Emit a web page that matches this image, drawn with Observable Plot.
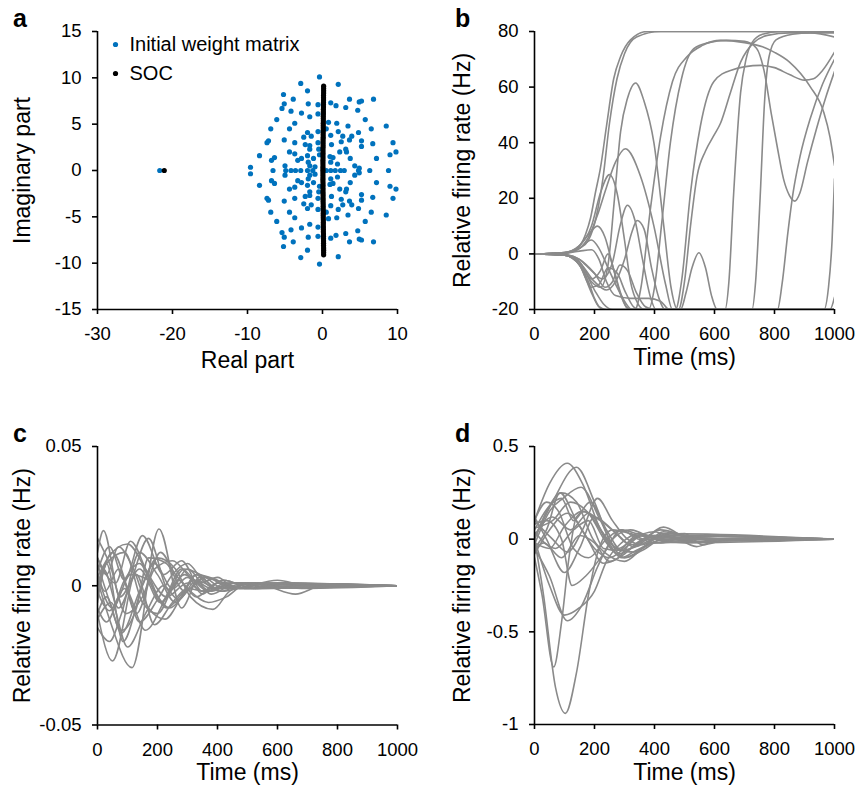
<!DOCTYPE html>
<html><head><meta charset="utf-8">
<script src="https://cdn.jsdelivr.net/npm/d3@7"></script>
<script src="https://cdn.jsdelivr.net/npm/@observablehq/plot@0.6"></script>
<style>
body{margin:0;background:#fff;}
#fig{position:relative;width:859px;height:792px;font-family:"Liberation Sans",Arial,Helvetica,sans-serif;overflow:hidden;}
.panel{position:absolute;}
.letter{position:absolute;font-weight:bold;font-size:25px;line-height:1;color:#000;}
</style></head><body><div id="fig"></div>
<script>
// ---------- Panel a: eigenvalues ----------
const aTicksX = [-30, -20, -10, 0, 10];
const aTicksY = [-15, -10, -5, 0, 5, 10, 15];
const initialEigs = [
 [-0.4,10.1],[-2.9,9.4],[2.1,9.3],[-2.0,8.6],[-5.2,8.2],[-3.9,7.7],[-5.1,7.2],[-5.4,6.7],[3.6,7.7],[4.9,7.4],
 [5.2,7.5],[6.8,7.7],[1.1,7.3],[1.8,7.0],[-1.9,7.2],[-0.6,7.1],[3.1,6.8],[4.7,6.5],[-4.2,6.4],[-2.8,6.2],
 [-1.7,5.8],[-0.6,6.1],[-6.1,5.5],[-3.7,5.1],[0.8,5.2],[1.9,5.1],[5.7,5.5],[-6.9,4.5],[-4.4,4.5],[0.5,4.5],
 [2.1,4.2],[3.4,4.8],[6.5,4.5],[8.5,4.8],[-2.0,4.1],[-0.6,4.2],[-2.5,3.6],[-1.5,3.7],[1.1,3.8],[2.7,3.7],
 [3.9,3.7],[4.8,4.1],[-7.4,3.0],[-7.2,3.2],[-5.1,3.3],[-3.7,3.0],[-2.3,2.8],[-1.7,2.7],[-0.6,3.0],[1.2,2.8],
 [2.5,3.1],[3.6,3.3],[5.2,3.2],[5.2,2.6],[9.4,3.0],[6.7,2.9],[-1.7,2.3],[-0.5,2.3],[-8.4,1.6],[-6.4,1.4],
 [-4.4,2.0],[-3.7,1.8],[-6.8,1.1],[-5.0,0.5],[-2.8,1.3],[-2.0,1.6],[-3.3,1.1],[-1.9,0.9],[-1.2,1.3],[-1.7,0.5],
 [1.0,1.5],[1.4,1.4],[1.1,0.9],[2.3,2.0],[3.1,2.3],[3.2,2.0],[3.7,1.3],[4.3,0.5],[4.9,0.25],[7.2,1.3],
 [9.0,1.7],[9.8,2.0],[-9.6,0.35],[-1.0,0.4],[2.0,0.7],[-0.4,1.7],
 [-0.4,-10.1],[-2.9,-9.4],[2.1,-9.3],[-2.0,-8.6],[-5.2,-8.2],[-3.9,-7.7],[-5.1,-7.2],[-5.4,-6.7],[3.6,-7.7],[4.9,-7.4],
 [5.2,-7.5],[6.8,-7.7],[1.1,-7.3],[1.8,-7.0],[-1.9,-7.2],[-0.6,-7.1],[3.1,-6.8],[4.7,-6.5],[-4.2,-6.4],[-2.8,-6.2],
 [-1.7,-5.8],[-0.6,-6.1],[-6.1,-5.5],[-3.7,-5.1],[0.8,-5.2],[1.9,-5.1],[5.7,-5.5],[-6.9,-4.5],[-4.4,-4.5],[0.5,-4.5],
 [2.1,-4.2],[3.4,-4.8],[6.5,-4.5],[8.5,-4.8],[-2.0,-4.1],[-0.6,-4.2],[-2.5,-3.6],[-1.5,-3.7],[1.1,-3.8],[2.7,-3.7],
 [3.9,-3.7],[4.8,-4.1],[-7.4,-3.0],[-7.2,-3.2],[-5.1,-3.3],[-3.7,-3.0],[-2.3,-2.8],[-1.7,-2.7],[-0.6,-3.0],[1.2,-2.8],
 [2.5,-3.1],[3.6,-3.3],[5.2,-3.2],[5.2,-2.6],[9.4,-3.0],[6.7,-2.9],[-1.7,-2.3],[-0.5,-2.3],[-8.4,-1.6],[-6.4,-1.4],
 [-4.4,-2.0],[-3.7,-1.8],[-6.8,-1.1],[-5.0,-0.5],[-2.8,-1.3],[-2.0,-1.6],[-3.3,-1.1],[-1.9,-0.9],[-1.2,-1.3],[-1.7,-0.5],
 [1.0,-1.5],[1.4,-1.4],[1.1,-0.9],[2.3,-2.0],[3.1,-2.3],[3.2,-2.0],[3.7,-1.3],[4.3,-0.5],[4.9,-0.25],[7.2,-1.3],
 [9.0,-1.7],[9.8,-2.0],[-9.6,-0.35],[-1.0,-0.4],[2.0,-0.7],[-0.4,-1.7],
 [-6.6,0],[-4.9,0],[-4.2,0],[-3.6,0],[-2.9,0],[-2.0,0],[-1.3,0],[0.5,0],[1.1,0],[1.7,0],[2.4,0],[2.9,0],[4.8,0],[6.3,0],[8.8,0],
 [-21.7,0]
];
const socEigs = [
 [-21.1,0],
 [0.15,9.1],[0.15,8.85],[0.15,8.6],[0.15,8.35],[0.14,8.1],[0.14,7.85],[0.14,7.6],[0.13,7.35],[0.13,7.1],[0.13,6.85],
 [0.12,6.6],[0.12,6.35],[0.12,6.1],[0.11,5.85],[0.11,5.6],[0.11,5.35],[0.1,5.1],[0.1,4.85],[0.1,4.6],[0.1,4.35],
 [0.09,4.1],[0.09,3.85],[0.09,3.6],[0.08,3.35],[0.08,3.1],[0.08,2.85],[0.08,2.6],[0.07,2.35],[0.07,2.1],[0.07,1.85],
 [0.07,1.6],[0.07,1.35],[0.06,1.1],[0.06,0.85],[0.06,0.6],[0.06,0.35],[0.06,0.1],
 [0.06,-0.1],[0.06,-0.35],[0.06,-0.6],[0.06,-0.85],[0.06,-1.1],[0.07,-1.35],[0.07,-1.6],[0.07,-1.85],[0.07,-2.1],[0.07,-2.35],
 [0.08,-2.6],[0.08,-2.85],[0.08,-3.1],[0.08,-3.35],[0.09,-3.6],[0.09,-3.85],[0.09,-4.1],[0.1,-4.35],[0.1,-4.6],[0.1,-4.85],
 [0.1,-5.1],[0.11,-5.35],[0.11,-5.6],[0.11,-5.85],[0.12,-6.1],[0.12,-6.35],[0.12,-6.6],[0.13,-6.85],[0.13,-7.1],[0.13,-7.35],
 [0.14,-7.6],[0.14,-7.85],[0.14,-8.1],[0.15,-8.35],[0.15,-8.6],[0.15,-8.85],[0.15,-9.1]
];
const legendLabels = ["Initial weight matrix", "SOC"];

// ---------- Panel b: firing rates, initial network ----------
const timeTicks = [0, 200, 400, 600, 800, 1000];
const bTicksY = [-20, 0, 20, 40, 60, 80];
const bCurves = [
 [[0,0],[100,0.5],[137,1.5],[170,7],[187,13],[203,22],[220,31],[240,46],[264,63],[287,71],[320,77],[376,80],[1000,80]],
 [[0,0],[100,0.3],[150,2],[180,5],[205,13],[228,27],[250,47],[275,63],[300,72],[340,78],[420,80],[1000,80]],
 [[0,0],[100,-0.3],[150,-3],[190,-10],[220,-12],[245,-4],[265,18],[287,44],[310,56],[337,61.5],[365,55],[398,40],[431,10],[455,-12],[477,-20],[965,-20],[980,-12],[992,5],[1000,27]],
 [[0,0],[100,0.3],[150,2],[180,6],[210,14],[240,24],[270,33],[303,37.8],[353,28],[398,10],[437,-11],[460,-20],[985,-20],[1000,-15.6]],
 [[0,0],[100,0.5],[150,3],[190,10],[220,22],[250,28.5],[275,22],[300,5],[320,-10],[345,-18],[365,-20],[480,-20],[500,-10],[520,10],[542,28],[570,37],[598,42.6],[620,47],[653,58],[687,69],[731,76],[776,78.6],[850,79.5],[1000,79.5]],
 [[0,0],[100,-0.3],[150,-2],[190,-6],[225,-9],[260,-3],[285,10],[310,17.5],[335,12],[360,-2],[385,-15],[405,-20],[810,-20],[825,-11],[845,8],[862,22],[885,35],[920,49],[960,61],[1000,70]],
 [[0,0],[100,-0.5],[150,-3],[200,-10],[240,-13],[270,-10],[300,-2],[325,8],[342,12],[365,9],[390,-5],[415,-16],[435,-20],[487,-20],[505,-14],[525,-5],[548,0.4],[570,-5],[590,-15],[609,-20],[635,-20],[648,-10],[664,22],[687,58],[705,70],[725,76],[760,79],[820,80],[1000,80]],
 [[0,0],[100,0.5],[150,3],[180,7],[210,10],[235,6],[260,-4],[285,-14],[305,-19],[320,-20],[725,-20],[737,-10],[752,20],[767,55],[782,71],[805,77],[860,79],[920,79.5],[1000,78]],
 [[0,0],[100,-0.5],[150,-4],[190,-14],[215,-19],[240,-20],[380,-20],[400,-12],[425,12],[453,40],[490,63],[531,73.8],[580,76],[640,76.8],[700,76.5],[740,74],[765,66],[790,50],[810,38],[830,27],[850,21],[868,19],[885,22],[910,33],[940,45],[970,56],[1000,65.6]],
 [[0,0],[100,-0.3],[150,-3],[200,-13],[230,-18],[260,-20],[470,-20],[490,-10],[520,22],[553,46],[598,62],[653,66],[753,67.8],[800,67],[850,64.5],[900,62.5],[930,63],[960,66],[1000,72.6]],
 [[0,0],[100,-0.5],[150,-4],[180,-10],[200,-16],[215,-19],[230,-20],[335,-20],[355,-12],[385,15],[420,42],[460,62],[509,71],[560,75],[620,76.8],[700,76],[760,74.5],[800,72.5],[850,69],[920,60],[964,51],[985,42],[1000,31.8]],
 [[0,0],[100,-0.3],[150,-3],[190,-9],[220,-6],[245,0],[265,-6],[290,-15],[310,-19.5],[330,-20],[1000,-20]],
 [[0,0],[100,0.2],[150,1],[190,1.5],[215,-2],[240,-10],[270,-15],[320,-16],[380,-16],[420,-17],[450,-20],[1000,-20]],
 [[0,0],[100,-0.5],[150,-4],[190,-12],[215,-11],[245,-5],[276,-7],[300,-13],[330,-19],[350,-20],[1000,-20]],
 [[0,0],[100,0.3],[150,2],[190,5],[215,2],[245,-5],[275,-12],[300,-17],[325,-20],[1000,-20]],
 [[0,0],[100,-0.2],[150,-2],[200,-7],[235,-12],[260,-10],[285,-4],[310,-6],[340,-14],[370,-19],[400,-20],[1000,-20]]
];

// ---------- Panel c: firing rates, SOC network (small input) ----------
const cTicksY = [-0.05, 0, 0.05];
const cCurves = [
 [[0,0.012],[20,0.0198],[75,-0.004],[140,0.006],[210,-0.006],[290,0.004],[370,-0.002],[450,0.001],[560,-0.0005],[700,0],[1000,0]],
 [[0,-0.01],[50,-0.027],[120,0.004],[170,0.017],[240,-0.002],[300,0.006],[380,-0.003],[460,0.001],[600,0.0005],[1000,0]],
 [[0,0.002],[40,-0.012],[115,-0.0294],[205,0.0204],[280,-0.008],[340,0.003],[410,-0.002],[500,0.001],[620,-0.0005],[1000,0]],
 [[0,0.005],[40,0.014],[90,0.002],[150,0.018],[220,0.004],[280,0.009],[350,-0.002],[420,0.002],[520,-0.001],[650,0],[1000,0]],
 [[0,-0.005],[30,0.008],[90,0.012],[150,-0.006],[200,-0.01],[270,0.002],[330,-0.004],[400,0.001],[500,-0.001],[600,0.0005],[1000,0]],
 [[0,0.008],[35,-0.004],[80,-0.016],[130,-0.008],[170,0.01],[230,0.008],[290,-0.002],[360,0.003],[450,-0.001],[600,0.001],[1000,0]],
 [[0,-0.015],[40,-0.02],[80,-0.01],[140,0.012],[200,0.004],[260,-0.006],[320,0.002],[380,-0.001],[450,0.001],[1000,0]],
 [[0,0.01],[30,0.004],[70,0.014],[120,0.006],[170,-0.008],[225,-0.012],[280,-0.004],[330,0.004],[400,-0.001],[500,0.001],[650,-0.0005],[1000,0]],
 [[0,0],[30,0.008],[85,-0.02],[150,0],[200,0.01],[260,0.006],[310,-0.004],[385,-0.0085],[440,-0.002],[520,0.001],[680,-0.001],[1000,0]],
 [[0,-0.003],[50,0.012],[110,-0.004],[160,-0.016],[230,-0.004],[290,0.006],[360,0.003],[420,-0.001],[500,0.0005],[1000,0]],
 [[0,0.005],[25,-0.002],[70,0.006],[130,-0.01],[190,0.006],[250,0.009],[300,0.004],[350,-0.003],[400,0.001],[480,-0.001],[1000,0]],
 [[0,-0.008],[30,-0.013],[90,0.002],[140,0.008],[190,-0.002],[240,-0.008],[300,-0.002],[360,0.003],[430,0.001],[1000,0]],
 [[0,0.017],[40,0.008],[95,-0.01],[150,-0.004],[210,0.012],[260,0.004],[310,-0.002],[370,-0.006],[430,-0.004],[500,0.001],[1000,0]],
 [[0,-0.012],[45,-0.006],[100,-0.022],[160,-0.01],[220,0],[270,-0.005],[330,0.002],[400,-0.001],[1000,0]],
 [[0,0.003],[35,0.01],[100,0.015],[160,0.006],[230,-0.008],[280,-0.003],[330,0.004],[400,0.002],[460,-0.001],[1000,0]],
 [[0,-0.002],[40,-0.009],[90,-0.001],[140,-0.013],[200,-0.005],[250,0.004],[300,0.008],[350,0.002],[410,-0.002],[550,0.001],[1000,0]],
 [[0,0.01],[60,0.001],[110,0.016],[170,0.004],[230,-0.004],[300,0.001],[350,-0.002],[420,0.002],[520,-0.001],[620,0.001],[1000,0]],
 [[0,-0.006],[20,0.006],[70,-0.008],[130,0.004],[190,-0.014],[250,-0.006],[300,-0.001],[360,-0.002],[430,0.001],[1000,0]],
 [[0,0.004],[50,-0.008],[110,0.004],[170,0.002],[210,-0.006],[280,0.006],[340,0.001],[400,0.003],[460,-0.001],[600,0.002],[700,0],[1000,0]],
 [[0,-0.01],[30,-0.004],[80,-0.017],[140,-0.002],[190,0.008],[250,-0.001],[300,0.003],[380,-0.002],[450,0.001],[560,0],[660,-0.003],[750,0],[1000,0]]
];

// ---------- Panel d: firing rates, SOC network (large input) ----------
const dTicksY = [-1, -0.5, 0, 0.5];
const dCurves = [
 [[0,0],[30,-0.3],[70,-0.8],[103,-0.94],[140,-0.72],[180,-0.3],[215,-0.05],[260,0.05],[320,0.03],[400,-0.02],[500,0.01],[650,0],[1000,0]],
 [[0,-0.1],[25,-0.3],[64,-0.69],[90,-0.45],[115,-0.1],[140,0.12],[170,0.15],[220,0.05],[280,-0.05],[350,0.02],[450,-0.01],[600,0],[1000,0]],
 [[0,0.1],[50,0.3],[109,0.41],[160,0.3],[220,0.05],[280,-0.08],[340,-0.03],[420,0.05],[500,0.02],[600,-0.01],[1000,0]],
 [[0,0],[60,0.2],[140,0.388],[200,0.2],[250,0],[300,-0.1],[360,-0.05],[430,0.04],[520,0.01],[700,0],[1000,0]],
 [[0,-0.05],[50,-0.2],[109,-0.44],[160,-0.35],[210,-0.15],[260,0],[320,0.05],[400,0],[500,-0.02],[1000,0]],
 [[0,0],[50,-0.25],[100,-0.41],[150,-0.37],[200,-0.28],[240,-0.12],[290,-0.02],[350,0.03],[420,0],[1000,0]],
 [[0,0.08],[40,0.1],[90,0],[125,-0.25],[170,-0.2],[230,-0.08],[290,0.05],[340,0.03],[420,-0.02],[520,0.02],[1000,0]],
 [[0,0.12],[40,0],[100,-0.18],[150,-0.05],[200,0.12],[260,0.05],[320,-0.03],[400,0.02],[1000,0]],
 [[0,-0.05],[40,0.05],[85,0.25],[140,0.1],[200,-0.05],[250,-0.1],[300,-0.05],[360,0.02],[1000,0]],
 [[0,0.1],[60,0],[110,-0.07],[160,0.05],[210,0.22],[260,0.1],[310,0],[360,-0.03],[430,0.03],[1000,0]],
 [[0,-0.03],[50,0.15],[95,0.22],[155,0.28],[220,0.1],[270,-0.05],[330,-0.07],[400,0],[460,0.03],[560,0],[1000,0]],
 [[0,0.05],[50,0.18],[90,0.22],[130,0.1],[185,0.2],[240,0.05],[290,-0.06],[340,-0.04],[430,0.02],[1000,0]],
 [[0,-0.08],[50,0.05],[110,0.14],[170,0.02],[230,-0.13],[280,-0.1],[330,0],[400,0.04],[470,0],[1000,0]],
 [[0,0.02],[60,0.12],[120,0.05],[180,0.14],[240,0],[290,-0.1],[340,-0.06],[400,-0.02],[1000,0]],
 [[0,-0.02],[50,-0.05],[100,0.07],[160,0.15],[220,0.1],[280,0.02],[330,-0.04],[430,0.065],[520,0],[1000,0]],
 [[0,0],[40,0.15],[90,0.25],[140,0.2],[195,0],[240,-0.08],[300,-0.12],[360,-0.05],[420,0],[500,0.03],[560,-0.03],[650,0],[1000,0]],
 [[0,0.06],[60,0.1],[120,0.2],[180,0.14],[240,-0.02],[300,-0.1],[360,-0.06],[450,0.02],[540,-0.04],[620,0],[1000,0]],
 [[0,-0.06],[30,-0.02],[90,-0.1],[150,0.02],[200,-0.02],[250,-0.12],[300,-0.08],[360,0],[440,0.02],[1000,0]],
 [[0,0.04],[70,-0.05],[130,0.05],[180,0.1],[230,-0.05],[280,-0.06],[340,0.02],[420,0.01],[1000,0]],
 [[0,0.1],[40,0.2],[80,0.15],[130,-0.05],[180,-0.1],[240,0],[290,0.05],[350,0],[1000,0]]
];

// ---------- drawing ----------
const FONT = '"Liberation Sans", Arial, Helvetica, sans-serif';
const BLUE = "#0072BD";
const GREY = "#8a8a8a";
const fmt = d => String(d);
const toRows = curves => curves.flatMap((c, id) => c.map(([t, v]) => ({id, t, v})));

function panel(cfg) {
  const marks = [
    ...cfg.marks,
    Plot.ruleX([cfg.xDomain[0]], {stroke: "#000", strokeWidth: 1.6}),
    Plot.ruleY([cfg.yDomain[0]], {stroke: "#000", strokeWidth: 1.6}),
    Plot.axisX({ticks: cfg.xTicks, tickFormat: fmt, tickSize: 5, tickPadding: 12.5, label: null, fontSize: 18.5, stroke: "#000", strokeWidth: 1.6}),
    Plot.axisY({ticks: cfg.yTicks, tickFormat: fmt, tickSize: 5, tickPadding: 11, label: null, fontSize: 18.5, stroke: "#000", strokeWidth: 1.6}),
    Plot.text([cfg.xLabel], {frameAnchor: "bottom", dy: cfg.xLabelDy, fontSize: 23, textAnchor: "middle", lineAnchor: "middle", fill: "#000"}),
    Plot.text([cfg.yLabel], {frameAnchor: "left", dx: -cfg.yLabelDx, rotate: -90, fontSize: 23, textAnchor: "middle", lineAnchor: "middle", fill: "#000"})
  ];
  const svg = Plot.plot({
    width: cfg.width, height: cfg.height,
    marginLeft: cfg.ml, marginRight: cfg.mr, marginTop: cfg.mt, marginBottom: cfg.mb,
    x: {domain: cfg.xDomain}, y: {domain: cfg.yDomain},
    style: {fontFamily: FONT, fontSize: "18.5px", color: "#000", background: "transparent", overflow: "visible"},
    marks
  });
  const div = document.createElement("div");
  div.className = "panel";
  div.style.left = cfg.left + "px";
  div.style.top = cfg.top + "px";
  div.appendChild(svg);
  document.getElementById("fig").appendChild(div);
  const L = document.createElement("div");
  L.className = "letter";
  L.textContent = cfg.letter;
  L.style.left = cfg.letterX + "px";
  L.style.top = cfg.letterY + "px";
  document.getElementById("fig").appendChild(L);
}

const lineMarks = curves => [Plot.line(toRows(curves), {x: "t", y: "v", z: "id", stroke: GREY, strokeWidth: 1.6, curve: "monotone-x", clip: true})];

panel({
  letter: "a", letterX: 13, letterY: 6,
  left: 0, top: 0, width: 420, height: 380, ml: 97, mr: 23, mt: 31, mb: 71,
  xDomain: [-30, 10], yDomain: [-15, 15], xTicks: aTicksX, yTicks: aTicksY,
  xLabel: "Real part", xLabelDy: 51, yLabel: "Imaginary part", yLabelDx: 75,
  marks: [
    Plot.dot(initialEigs, {x: d => d[0], y: d => d[1], r: 2.6, fill: BLUE, stroke: null}),
    Plot.dot(socEigs, {x: d => d[0], y: d => d[1], r: 2.6, fill: "#000", stroke: null}),
    Plot.dot([legendLabels[0]], {frameAnchor: "top-left", dx: 18, dy: 13, r: 2.6, fill: BLUE, stroke: null}),
    Plot.dot([legendLabels[1]], {frameAnchor: "top-left", dx: 18, dy: 42, r: 2.6, fill: "#000", stroke: null}),
    Plot.text([legendLabels[0]], {frameAnchor: "top-left", dx: 32, dy: 13, textAnchor: "start", lineAnchor: "middle", fontSize: 20, fill: "#000"}),
    Plot.text([legendLabels[1]], {frameAnchor: "top-left", dx: 32, dy: 42, textAnchor: "start", lineAnchor: "middle", fontSize: 20, fill: "#000"})
  ]
});

panel({
  letter: "b", letterX: 455, letterY: 6,
  left: 440, top: 0, width: 419, height: 380, ml: 94, mr: 25, mt: 31, mb: 71,
  xDomain: [0, 1000], yDomain: [-20, 80], xTicks: timeTicks, yTicks: bTicksY,
  xLabel: "Time (ms)", xLabelDy: 48, yLabel: "Relative firing rate (Hz)", yLabelDx: 72,
  marks: lineMarks(bCurves)
});

panel({
  letter: "c", letterX: 13, letterY: 421,
  left: 0, top: 420, width: 420, height: 372, ml: 97, mr: 23, mt: 26, mb: 67.5,
  xDomain: [0, 1000], yDomain: [-0.05, 0.05], xTicks: timeTicks, yTicks: cTicksY,
  xLabel: "Time (ms)", xLabelDy: 48, yLabel: "Relative firing rate (Hz)", yLabelDx: 75,
  marks: lineMarks(cCurves)
});

panel({
  letter: "d", letterX: 455, letterY: 421,
  left: 440, top: 420, width: 419, height: 372, ml: 94, mr: 25, mt: 26, mb: 68,
  xDomain: [0, 1000], yDomain: [-1, 0.5], xTicks: timeTicks, yTicks: dTicksY,
  xLabel: "Time (ms)", xLabelDy: 48, yLabel: "Relative firing rate (Hz)", yLabelDx: 72,
  marks: lineMarks(dCurves)
});
</script></body></html>
